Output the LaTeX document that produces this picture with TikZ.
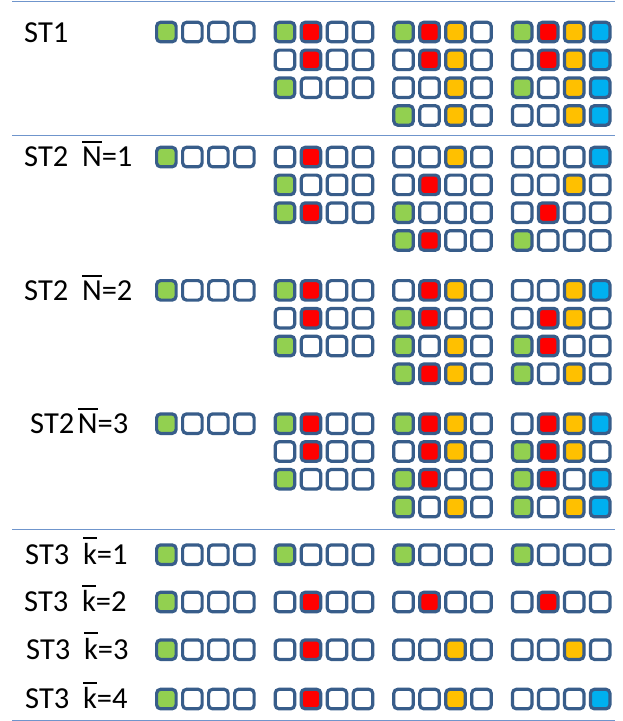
\documentclass[tikz,border=0pt]{standalone}
\usepackage{fontspec}
\setmainfont{Carlito}
\usepackage{xcolor}
\usepackage{tikz}

\definecolor{cG}{HTML}{92D050}
\definecolor{cR}{HTML}{FF0000}
\definecolor{cY}{HTML}{FFC000}
\definecolor{cB}{HTML}{00B0F0}
\definecolor{c0}{HTML}{FFFFFF}
\definecolor{slotline}{HTML}{385D8A}
\definecolor{ruleblue}{HTML}{6F95CC}

\tikzset{
  slot/.style={draw=slotline, line width=3.2pt, rounded corners=4pt},
  sepline/.style={draw=ruleblue, line width=1pt},
  tag/.style={anchor=base west, inner sep=0pt, font=\fontsize{30.5}{31}\selectfont}
}

\newcommand{\ovbar}[1]{\vbox{\hrule height 0.06em\kern 0.12em\hbox{#1}}}
% one row of four slots: x, top y, colour list
\newcommand{\slotrow}[3]{%
  \foreach \col [count=\i from 0] in #3
    \draw[slot, fill=c\col] ({#1+\i*26+1.6},{#2+1.6}) rectangle ++(19.5,19.5);
}
% several rows stacked: x, top y, rows
\newcommand{\slotblock}[3]{%
  \foreach \pat [count=\rr from 0] in {#3}
    {\slotrow{#1}{#2+\rr*27.8}{\pat}}
}

\begin{document}
\begin{tikzpicture}[x=1pt, y=-1pt]
    \useasboundingbox (0,0) rectangle (623,721);

    % separators
    \draw[sepline] (12,1) -- (615,1);
    \draw[sepline] (12,135) -- (615,135);
    \draw[sepline] (12,529) -- (615,529);
    \draw[sepline] (12,720) -- (615,720);

    % ST1
    \node[tag] (st1) at (24,42) {ST1};
    \slotblock{155}{20.7}{{G,0,0,0}}
    \slotblock{273.6}{20.7}{{G,R,0,0},{0,R,0,0},{G,0,0,0}}
    \slotblock{392.2}{20.7}{{G,R,Y,0},{0,R,Y,0},{0,0,Y,0},{G,0,Y,0}}
    \slotblock{510.8}{20.7}{{G,R,Y,B},{0,R,Y,B},{G,0,Y,B},{0,0,Y,B}}

    % ST2, N=1
    \node[tag] (st2a) at (24,166.5) {ST2\hspace{0.45em}\ovbar{N}=1};
    \slotblock{155}{145.7}{{G,0,0,0}}
    \slotblock{273.6}{145.7}{{0,R,0,0},{G,0,0,0},{G,R,0,0}}
    \slotblock{392.2}{145.7}{{0,0,Y,0},{0,R,0,0},{G,0,0,0},{G,R,0,0}}
    \slotblock{510.8}{145.7}{{0,0,0,B},{0,0,Y,0},{0,R,0,0},{G,0,0,0}}

    % ST2, N=2
    \node[tag] (st2b) at (24,300) {ST2\hspace{0.45em}\ovbar{N}=2};
    \slotblock{155}{279}{{G,0,0,0}}
    \slotblock{273.6}{279}{{G,R,0,0},{0,R,0,0},{G,0,0,0}}
    \slotblock{392.2}{279}{{0,R,Y,0},{G,R,0,0},{G,0,Y,0},{G,R,Y,0}}
    \slotblock{510.8}{279}{{0,0,Y,B},{0,R,Y,0},{G,R,0,0},{G,0,Y,0}}

    % ST2, N=3
    \node[tag] (st2c) at (30,433) {ST2\hspace{0.12em}\ovbar{N}=3};
    \slotblock{155}{412.3}{{G,0,0,0}}
    \slotblock{273.6}{412.3}{{G,R,0,0},{0,R,0,0},{G,0,0,0}}
    \slotblock{392.2}{412.3}{{G,R,Y,0},{0,R,Y,0},{G,R,0,0},{G,0,Y,0}}
    \slotblock{510.8}{412.3}{{0,R,Y,B},{G,R,Y,0},{G,R,0,B},{G,0,Y,B}}

    % ST3, one row per k
    \node[tag] (st3a) at (25,564) {ST3\hspace{0.45em}\ovbar{k}=1};
    \slotblock{155}{543.3}{{G,0,0,0}}
    \slotblock{273.6}{543.3}{{G,0,0,0}}
    \slotblock{392.2}{543.3}{{G,0,0,0}}
    \slotblock{510.8}{543.3}{{G,0,0,0}}

    \node[tag] (st3b) at (24,611.5) {ST3\hspace{0.45em}\ovbar{k}=2};
    \slotblock{155}{590.7}{{G,0,0,0}}
    \slotblock{273.6}{590.7}{{0,R,0,0}}
    \slotblock{392.2}{590.7}{{0,R,0,0}}
    \slotblock{510.8}{590.7}{{0,R,0,0}}

    \node[tag] (st3c) at (26,659) {ST3\hspace{0.45em}\ovbar{k}=3};
    \slotblock{155}{638.3}{{G,0,0,0}}
    \slotblock{273.6}{638.3}{{0,R,0,0}}
    \slotblock{392.2}{638.3}{{0,0,Y,0}}
    \slotblock{510.8}{638.3}{{0,0,Y,0}}

    \node[tag] (st3d) at (25,708.5) {ST3\hspace{0.45em}\ovbar{k}=4};
    \slotblock{155}{687.7}{{G,0,0,0}}
    \slotblock{273.6}{687.7}{{0,R,0,0}}
    \slotblock{392.2}{687.7}{{0,0,Y,0}}
    \slotblock{510.8}{687.7}{{0,0,0,B}}
\end{tikzpicture}
\end{document}
